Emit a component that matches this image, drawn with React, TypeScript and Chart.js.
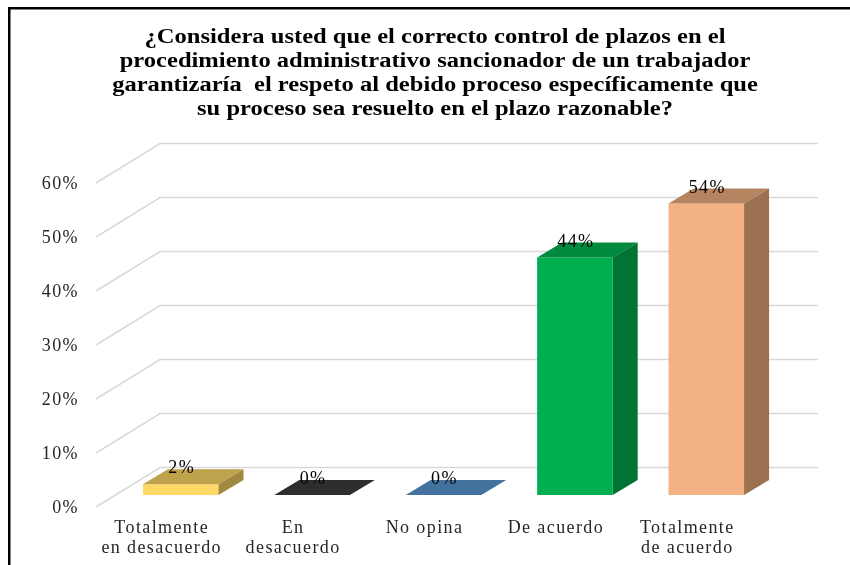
import React, { useEffect, useRef } from "react";
import { Chart, registerables } from "chart.js";

Chart.register(...registerables);

const categories = [
  ["Totalmente", "en desacuerdo"],
  ["En", "desacuerdo"],
  ["No opina"],
  ["De acuerdo"],
  ["Totalmente", "de acuerdo"],
];
const values = [2, 0, 0, 44, 54];
const frontColors = ["#FFD966", "#2E2E2E", "#44729F", "#00B050", "#F4B183"];
const topColors = ["#BFA24C", "#2E2E2E", "#44729F", "#008A3E", "#B78462"];
const sideColors = ["#A08840", "#262626", "#3A618A", "#007434", "#9C7152"];
const titleLines = [
  "¿Considera usted que el correcto control de plazos en el",
  "procedimiento administrativo sancionador de un trabajador",
  "garantizaría  el respeto al debido proceso específicamente que",
  "su proceso sea resuelto en el plazo razonable?",
];

const FONT = "'Liberation Serif', 'Times New Roman', serif";
const BAR_DX = 25;
const BAR_DY = 15;
const WALL_DX = 45;
const WALL_DY = 27.5;
const FLOOR_DX = 19;
const FLOOR_DY = 12;
const WALL_RIGHT = 818;
const TITLE_CENTER = 435;
const TITLE_STRETCH = 1.228;

const chart3d = {
  id: "chart3d",
  afterLayout(chart: any) {
    const title = chart.titleBlock;
    title.left = TITLE_CENTER - 400;
    title.right = TITLE_CENTER + 400;
    if (!title.__stretched) {
      title.__stretched = true;
      const original = title.draw.bind(title);
      title.draw = () => {
        const { ctx } = chart;
        ctx.save();
        ctx.letterSpacing = "0px";
        ctx.translate(TITLE_CENTER, 0);
        ctx.scale(TITLE_STRETCH, 1);
        ctx.translate(-TITLE_CENTER, 0);
        original();
        ctx.restore();
      };
    }
  },
  beforeDraw(chart: any) {
    const { ctx } = chart;
    ctx.letterSpacing = "1.4px";
    ctx.save();
    ctx.fillStyle = "#000000";
    ctx.fillRect(8, 7, 842, 2.5);
    ctx.fillRect(8, 7, 2.5, 558);
    ctx.restore();
  },
  beforeDatasetsDraw(chart: any) {
    const { ctx, scales } = chart;
    const left = chart.chartArea.left;
    ctx.save();
    ctx.strokeStyle = "#D9D9D9";
    ctx.lineWidth = 1.5;
    scales.y.ticks.forEach((t: any) => {
      const y = scales.y.getPixelForValue(t.value);
      ctx.beginPath();
      ctx.moveTo(left - FLOOR_DX, y + FLOOR_DY);
      ctx.lineTo(left + WALL_DX, y - WALL_DY);
      ctx.lineTo(WALL_RIGHT, y - WALL_DY);
      ctx.stroke();
    });
    ctx.restore();
  },
  afterDatasetsDraw(chart: any) {
    const { ctx } = chart;
    const bars = chart.getDatasetMeta(0).data;
    ctx.save();
    bars.forEach((bar: any, i: number) => {
      const { x, y, base, width } = bar.getProps(["x", "y", "base", "width"], true);
      const l = x - width / 2;
      const r = x + width / 2;
      ctx.fillStyle = topColors[i];
      ctx.beginPath();
      ctx.moveTo(l, y);
      ctx.lineTo(r, y);
      ctx.lineTo(r + BAR_DX, y - BAR_DY);
      ctx.lineTo(l + BAR_DX, y - BAR_DY);
      ctx.closePath();
      ctx.fill();
      if (base - y > 0.5) {
        ctx.fillStyle = sideColors[i];
        ctx.beginPath();
        ctx.moveTo(r, y);
        ctx.lineTo(r + BAR_DX, y - BAR_DY);
        ctx.lineTo(r + BAR_DX, base - BAR_DY);
        ctx.lineTo(r, base);
        ctx.closePath();
        ctx.fill();
      }
    });
    ctx.fillStyle = "#000000";
    ctx.font = `18px ${FONT}`;
    ctx.textAlign = "center";
    ctx.textBaseline = "middle";
    bars.forEach((bar: any, i: number) => {
      const { x, y } = bar.getProps(["x", "y"], true);
      ctx.fillText(`${values[i]}%`, x + 1, y - 15.5);
    });
    ctx.restore();
  },
};

export default function App() {
  const ref = useRef<HTMLCanvasElement>(null);
  useEffect(() => {
    const chart = new Chart(ref.current as HTMLCanvasElement, {
      type: "bar",
      data: {
        labels: categories as any,
        datasets: [
          {
            data: values,
            backgroundColor: frontColors,
            borderWidth: 0,
            barPercentage: 0.575,
            categoryPercentage: 1,
          },
        ],
      },
      options: {
        animation: false,
        responsive: false,
        layout: { padding: { top: 25.5, right: 78, left: 0, bottom: 0 } },
        plugins: {
          legend: { display: false },
          tooltip: { enabled: false },
          title: {
            display: true,
            text: titleLines,
            color: "#000000",
            font: { family: FONT, size: 20, weight: "bold", lineHeight: 1.2 },
            padding: { top: 0, bottom: 49.5 },
          },
        },
        scales: {
          x: {
            grid: { display: false, drawTicks: false },
            border: { display: false },
            afterFit(scale: any) {
              scale.height = 70;
            },
            ticks: {
              color: "#262626",
              autoSkip: false,
              maxRotation: 0,
              minRotation: 0,
              padding: 23,
              labelOffset: -19,
              font: { family: FONT, size: 18, lineHeight: 1.12 },
            },
          },
          y: {
            min: 0,
            max: 60,
            grid: { display: false, drawTicks: false },
            border: { display: false },
            afterFit(scale: any) {
              scale.width = 115;
            },
            ticks: {
              stepSize: 10,
              color: "#262626",
              padding: 36,
              labelOffset: 13.5,
              font: { family: FONT, size: 18 },
              callback: (v: any) => `${v}%`,
            },
          },
        },
      } as any,
      plugins: [chart3d],
    });
    return () => chart.destroy();
  }, []);
  return (
    <div style={{ position: "fixed", left: 0, top: 0, width: 850, height: 565, background: "#fff" }}>
      <canvas ref={ref} width={850} height={565} style={{ display: "block" }} />
    </div>
  );
}
